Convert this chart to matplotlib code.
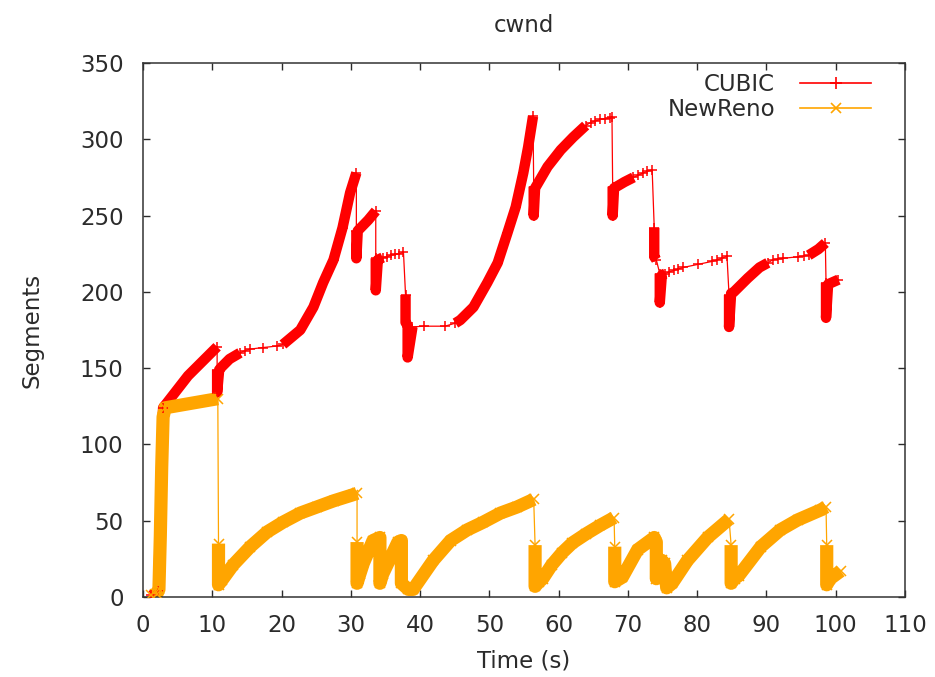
import matplotlib
matplotlib.use("Agg")

import numpy as np
import matplotlib.pyplot as plt
from matplotlib.lines import Line2D

# =========================
# data (time s, cwnd segments)
# dense = 1 when the trace between this point and the next is a solid band
# =========================
cubic_t = [1.2, 2.2, 2.9, 6.5, 10.7, 10.7, 10.7, 11.0, 11.4, 12.5, 14.0,
           14.7, 15.5, 17.3, 19.4, 20.2, 22.7, 24.6, 26.0, 27.5, 28.8, 29.9,
           30.8, 30.8, 30.8, 31.0, 32.5, 33.6, 33.6, 33.6, 33.9, 34.6, 35.2,
           35.8, 36.4, 37.0, 37.6, 37.9, 37.9, 38.2, 38.2, 38.9, 40.5, 43.6,
           45.1, 45.8, 47.7, 49.7, 51.2, 52.6, 53.8, 54.9, 55.6, 56.3, 56.4,
           56.4, 56.6, 58.4, 60.3, 62.1, 63.9, 64.6, 65.3, 66.0, 66.7, 67.4,
           67.7, 67.8, 67.8, 68.0, 69.5, 70.8, 71.5, 72.2, 72.8, 73.5, 73.8,
           73.8, 74.1, 74.6, 74.6, 74.9, 75.4, 75.9, 76.6, 77.3, 78.0, 80.1,
           82.2, 82.9, 83.6, 84.3, 84.6, 84.6, 84.9, 85.3, 87.3, 89.0, 90.2,
           90.9, 91.6, 92.4, 94.6, 95.4, 96.1, 97.5, 98.5, 98.6, 98.6, 98.9,
           100.4]
cubic_w = [1, 4, 124, 145, 164, 149, 134, 149, 151, 156, 160,
           161.5, 162.5, 163.5, 164.5, 165.5, 175, 190, 206, 221, 242, 265,
           278, 240, 222, 240, 247, 253, 222, 201, 221, 222.5, 223,
           224, 224.5, 225, 226, 198, 180, 178, 157, 177, 177.5, 177.5,
           179.5, 181.5, 190, 206, 219, 238.5, 255.6, 278, 295, 315, 269,
           250, 268, 282, 293, 301.4, 309, 311, 312, 313, 313.5, 314,
           314.5, 269, 250, 268, 272, 275, 276.5, 278, 279, 280, 242,
           223, 221, 212, 193, 211, 212, 213, 214, 215, 216, 218,
           220, 221, 222, 223.5, 198, 177, 199, 200, 209, 216, 219,
           221, 221.5, 222, 223, 223.5, 224, 228, 232, 206, 183, 205,
           208]
cubic_dense = [1, 1, 1, 1, 0, 1, 1, 1, 1, 1, 0,
               0, 0, 0, 0, 1, 1, 1, 1, 1, 1, 1,
               0, 1, 1, 1, 1, 0, 1, 1, 1, 0, 0,
               0, 0, 0, 0, 1, 1, 1, 1, 0, 0, 0,
               1, 1, 1, 1, 1, 1, 1, 1, 1, 0, 1,
               1, 1, 1, 1, 1, 0, 0, 0, 0, 0, 0,
               0, 1, 1, 1, 1, 0, 0, 0, 0, 0, 1,
               1, 0, 1, 1, 1, 0, 0, 0, 0, 0, 0,
               0, 0, 0, 0, 1, 1, 1, 1, 1, 1, 0,
               0, 0, 0, 0, 0, 1, 1, 0, 1, 1, 1,
               0]

newreno_t = [1.2, 2.0, 2.3, 2.5, 2.7, 2.9, 3.2, 10.8, 10.9, 10.9, 11.4, 13.0,
             15.5, 17.9, 20.2, 22.7, 25.1, 27.5, 30.3, 30.9, 30.9, 30.9, 31.3,
             31.8, 33.2, 34.2, 34.2, 34.6, 36.8, 37.3, 37.3, 38.3, 39.0, 41.9,
             44.4, 46.8, 49.1, 51.6, 54.0, 56.4, 56.6, 56.6, 57.2, 57.7, 59.0,
             60.5, 62.0, 64.0, 66.0, 68.0, 68.1, 68.1, 69.2, 71.4, 73.8, 74.1,
             74.1, 74.9, 75.3, 75.6, 76.4, 78.6, 81.5, 84.6, 84.9, 84.9, 85.4,
             86.0, 89.2, 92.0, 94.5, 97.8, 98.6, 98.7, 98.7, 99.2, 100.7]
newreno_w = [1, 2, 5, 40, 85, 118, 124, 130, 35, 8, 11, 21,
             33, 42.6, 49, 55, 59, 63, 67, 68, 36, 9, 15,
             22, 37, 39, 9, 15, 36, 37, 9, 5, 5, 24,
             37, 44, 49, 55, 59, 64, 34, 7, 10, 12, 21,
             29, 35.5, 41.5, 47, 52, 33, 10, 13, 31, 39, 36,
             12, 24, 22, 6, 9, 24, 39, 51, 34, 9, 12,
             14, 33, 44, 50.5, 57, 59, 34, 8, 12, 17]
newreno_dense = [1, 1, 1, 1, 1, 1, 1, 0, 1, 1, 1, 1,
                 1, 1, 1, 1, 1, 1, 1, 0, 1, 1, 1,
                 1, 1, 1, 1, 1, 1, 1, 1, 1, 1, 1,
                 1, 1, 1, 1, 1, 0, 1, 1, 1, 1, 1,
                 1, 1, 1, 1, 0, 1, 1, 1, 1, 1, 1,
                 1, 1, 1, 1, 1, 1, 1, 0, 1, 1, 1,
                 1, 1, 1, 1, 1, 0, 1, 1, 1, 0]

CUBIC_COLOR = "#ff0000"
NEWRENO_COLOR = "#ffa500"
TEXT_COLOR = "#2b2b2b"

plt.rcParams["font.family"] = ["DejaVu Sans"]


def draw_trace(ax, t, w, dense, color, marker, band_lw):
    t = np.asarray(t, dtype=float)
    w = np.asarray(w, dtype=float)
    ax.plot(t, w, color=color, lw=0.9, zorder=2)

    # solid bands where the trace is dense
    i = 0
    n = len(t)
    while i < n - 1:
        if dense[i]:
            j = i
            while j < n - 1 and dense[j]:
                j += 1
            ax.plot(t[i:j + 1], w[i:j + 1], color=color, lw=band_lw,
                    solid_capstyle="butt", solid_joinstyle="round", zorder=2)
            i = j
        else:
            i += 1

    ax.plot(t, w, ls="none", marker=marker, ms=7.5, mew=1.1,
            color=color, zorder=3)


fig = plt.figure(figsize=(9.35, 6.77), dpi=100)
ax = fig.add_axes([143 / 935, 1 - 597 / 677, (905 - 143) / 935, (597 - 63) / 677])

draw_trace(ax, cubic_t, cubic_w, cubic_dense, CUBIC_COLOR, "+", 7.5)
draw_trace(ax, newreno_t, newreno_w, newreno_dense, NEWRENO_COLOR, "x", 9.5)

ax.set_xlim(0, 110)
ax.set_ylim(0, 350)
ax.set_xticks(np.arange(0, 111, 10))
ax.set_yticks(np.arange(0, 351, 50))
ax.tick_params(direction="in", top=True, right=True, length=5, width=1,
               labelsize=16.5, colors=TEXT_COLOR)
ax.tick_params(axis="x", pad=12)
ax.tick_params(axis="y", pad=14)
for sp in ax.spines.values():
    sp.set_color("#333333")
    sp.set_linewidth(1.1)

ax.set_title("cwnd", fontsize=16.5, color=TEXT_COLOR, pad=22)
ax.set_xlabel("Time (s)", fontsize=16.5, color=TEXT_COLOR, labelpad=9)
ax.set_ylabel("Segments", fontsize=16.5, color=TEXT_COLOR, labelpad=26)

handles = [
    Line2D([], [], color=CUBIC_COLOR, lw=1.2, marker="+", ms=9, mew=1.2),
    Line2D([], [], color=NEWRENO_COLOR, lw=1.2, marker="x", ms=7, mew=1.2),
]
leg = ax.legend(handles, ["CUBIC", "NewReno"], loc="upper right",
                bbox_to_anchor=(0.98, 1.015), frameon=False, markerfirst=False,
                fontsize=16.5, handlelength=3.1, handletextpad=1.1,
                labelspacing=0.08, borderaxespad=0.4)
for txt in leg.get_texts():
    txt.set_color(TEXT_COLOR)

fig.savefig("out.png", dpi=100, facecolor="white")
